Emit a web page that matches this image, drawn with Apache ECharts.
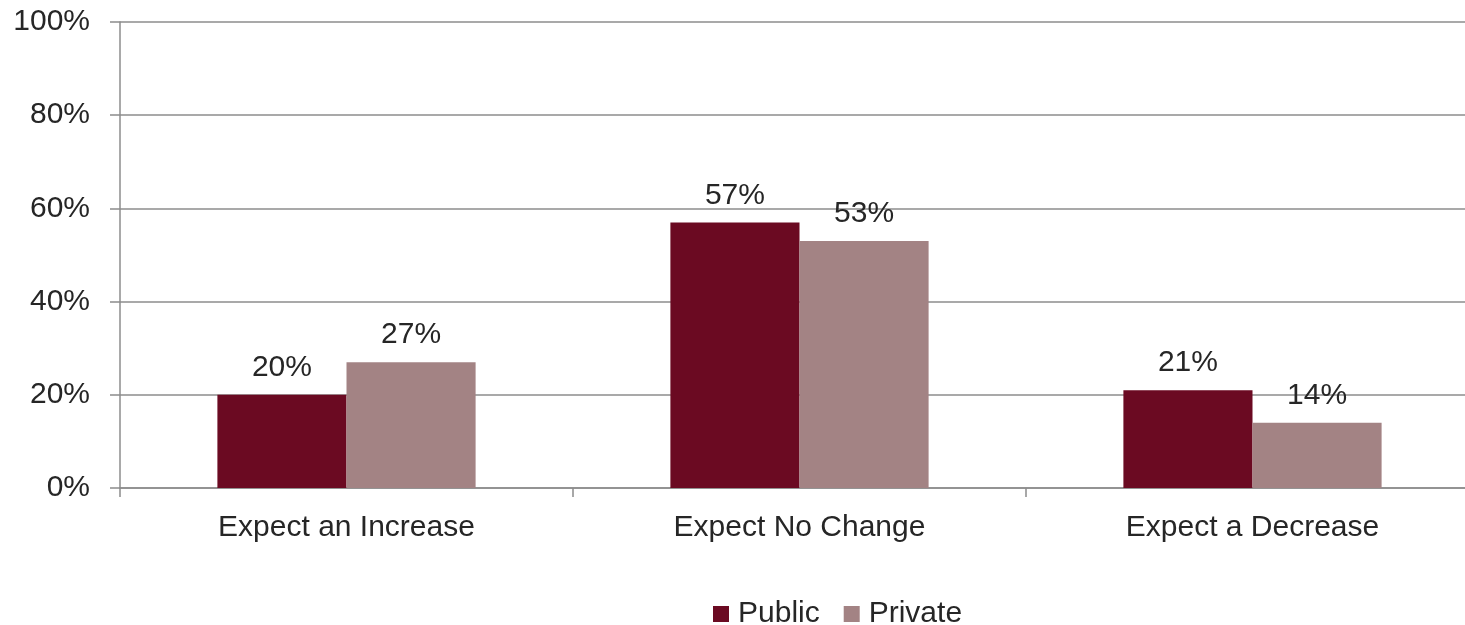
<!DOCTYPE html>
<html>
<head>
<meta charset="utf-8">
<script src="https://cdn.jsdelivr.net/npm/echarts@6/dist/echarts.min.js"></script>
<style>
  html, body { margin: 0; padding: 0; background: #ffffff; }
  #chart { width: 1465px; height: 625px; }
</style>
</head>
<body>
<div id="chart"></div>
<script>
// Expectations by sector, percent of respondents
const categories = ['Expect an Increase', 'Expect No Change', 'Expect a Decrease'];
const publicValues = [20, 57, 21];
const privateValues = [27, 53, 14];
const yTicks = [0, 20, 40, 60, 80, 100];

const FONT = '"Liberation Sans", Arial, sans-serif';
const TEXT = '#262626';
const LINE = '#8c8c8c';
const SIZE = 30;

const chart = echarts.init(document.getElementById('chart'), null, { renderer: 'canvas' });

const labelStyle = {
  show: true,
  position: 'top',
  distance: 12,
  formatter: p => p.value + '%',
  color: TEXT,
  fontFamily: FONT,
  fontSize: SIZE
};

chart.setOption({
  animation: false,
  backgroundColor: '#ffffff',
  textStyle: { fontFamily: FONT },
  grid: {
    left: 120, top: 22, width: 1359, bottom: 137,
    containLabel: false,
    outerBoundsMode: 'none'
  },
  legend: {
    data: ['Public', 'Private'],
    left: 708,
    top: 594,
    itemWidth: 16,
    itemHeight: 16,
    itemGap: 24,
    icon: 'rect',
    textStyle: { color: TEXT, fontFamily: FONT, fontSize: SIZE, padding: [0, 0, 0, 4] }
  },
  xAxis: {
    type: 'category',
    data: categories,
    axisLine: { show: true, lineStyle: { color: LINE, width: 1.5 } },
    axisTick: { show: true, length: 9, alignWithLabel: false, lineStyle: { color: LINE, width: 1.5 } },
    axisLabel: { color: TEXT, fontFamily: FONT, fontSize: SIZE, margin: 25 }
  },
  yAxis: {
    type: 'value',
    min: yTicks[0],
    max: yTicks[yTicks.length - 1],
    interval: 20,
    axisLine: { show: true, lineStyle: { color: LINE, width: 1.5 } },
    axisTick: { show: true, length: 10, lineStyle: { color: LINE, width: 1.5 } },
    axisLabel: { color: TEXT, fontFamily: FONT, fontSize: SIZE, margin: 30, formatter: v => v + '%' },
    splitLine: { show: true, lineStyle: { color: LINE, width: 1.5 } }
  },
  series: [
    {
      name: 'Public',
      type: 'bar',
      data: publicValues,
      barGap: '0%',
      barCategoryGap: '43%',
      itemStyle: { color: '#6b0a22' },
      label: labelStyle
    },
    {
      name: 'Private',
      type: 'bar',
      data: privateValues,
      barGap: '0%',
      barCategoryGap: '43%',
      itemStyle: { color: '#a38384' },
      label: labelStyle
    }
  ]
});
</script>
</body>
</html>
